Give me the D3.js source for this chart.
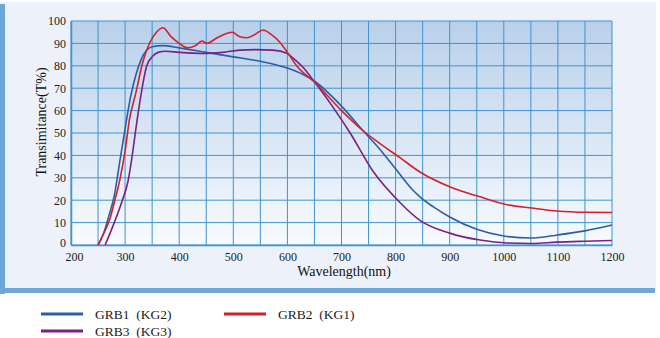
<!DOCTYPE html>
<html>
<head>
<meta charset="utf-8">
<script src="https://cdn.jsdelivr.net/npm/d3@7"></script>
<style>
  body { margin: 0; background: #ffffff; }
  svg { display: block; }
</style>
</head>
<body>
<svg></svg>
<script>
// Set up dimensions
const width = 660, height = 338;
const margin = { top: 21, right: 48, bottom: 93, left: 71 };

// Data
const xTicks = [200, 300, 400, 500, 600, 700, 800, 900, 1000, 1100, 1200];
const yTicks = [0, 10, 20, 30, 40, 50, 60, 70, 80, 90, 100];

const grb1 = [[250,0],[260,5],[270,13],[280,22],[290,37],[300,52],[310,66],[320,76],[330,83],[340,87],[350,88.5],[370,89],
  [400,88],[450,86],[500,84],[550,82],[600,79],[630,76],[651,73],[700,62],[740,51],[770,43],[800,34],[830,25],
  [845,21.5],[870,17],[900,12.5],[950,7],[1000,4],[1050,3.1],[1100,4.5],[1150,6.3],[1200,8.9]];

const grb2 = [[250,0],[260,5],[271,11],[280,19],[291,30],[300,42],[308,56],[320,68],[331,80],[346,90.5],[358,95],[370,97],
  [385,93],[400,90],[416,88],[430,89],[442,91],[451,90],[470,92.5],[498,95],[512,93],[525,92.5],[540,94],[555,96],
  [570,94],[586,90.5],[600,86],[617,80],[651,72.5],[700,60],[740,51],[770,45.5],[808,39],[845,32.6],[900,26],
  [956,21.5],[1006,18],[1052,16.5],[1098,15.2],[1154,14.6],[1200,14.5]];

const grb3 = [[263,0],[280,10],[295,20],[305,28],[312,38],[320,52],[328,65],[340,80],[350,84],[361,86],[375,86.5],
  [400,86],[444,85.5],[480,86],[512,87],[540,87.2],[573,87],[600,85.5],[610,83.5],[630,79],[651,72.5],[680,63],
  [716,50],[758,33],[808,19],[845,11],[900,5.3],[956,2.2],[1006,0.9],[1052,0.7],[1098,1.3],[1150,1.7],[1200,2]];

const series = [
  { name: "GRB1\u00a0\u00a0(KG2)", color: "#2c5ea6", values: grb1 },
  { name: "GRB2\u00a0\u00a0(KG1)", color: "#d61f2c", values: grb2 },
  { name: "GRB3\u00a0\u00a0(KG3)", color: "#7a2184", values: grb3 }
];

const svg = d3.select("svg")
    .attr("width", width)
    .attr("height", height);

// Panel background with blue edges
svg.append("rect")
    .attr("x", 0).attr("y", 2)
    .attr("width", 656).attr("height", 290)
    .attr("fill", "#edf2fa");
svg.append("rect")
    .attr("x", 0).attr("y", 4)
    .attr("width", 5).attr("height", 290)
    .attr("fill", "#6ea6d8");
svg.append("rect")
    .attr("x", 0).attr("y", 288)
    .attr("width", 655).attr("height", 5)
    .attr("fill", "#6ea6d8");

// Scales
const xScale = d3.scaleLinear().domain([200, 1200]).range([margin.left, width - margin.right]);
const yScale = d3.scaleLinear().domain([0, 100]).range([height - margin.bottom, margin.top]);

// Plot area gradient
const defs = svg.append("defs");
const grad = defs.append("linearGradient")
    .attr("id", "plotBg")
    .attr("x1", 0).attr("y1", 0).attr("x2", 0).attr("y2", 1);
grad.append("stop").attr("offset", "0%").attr("stop-color", "#b9d0ea");
grad.append("stop").attr("offset", "55%").attr("stop-color", "#dce8f6");
grad.append("stop").attr("offset", "100%").attr("stop-color", "#f8fbfe");

svg.append("rect")
    .attr("x", xScale(200)).attr("y", yScale(100))
    .attr("width", xScale(1200) - xScale(200))
    .attr("height", yScale(0) - yScale(100))
    .attr("fill", "url(#plotBg)");

// Grid lines
const gridColor = "#3f93cf";
svg.append("g")
    .selectAll("line")
    .data(d3.range(200, 1201, 50))
    .join("line")
    .attr("x1", d => xScale(d)).attr("x2", d => xScale(d))
    .attr("y1", yScale(0)).attr("y2", yScale(100))
    .attr("stroke", gridColor)
    .attr("stroke-width", 1);

svg.append("g")
    .selectAll("line")
    .data(yTicks)
    .join("line")
    .attr("x1", xScale(200)).attr("x2", xScale(1200))
    .attr("y1", d => yScale(d)).attr("y2", d => yScale(d))
    .attr("stroke", gridColor)
    .attr("stroke-width", 1);

// Axes (tick labels only)
const xAxis = svg.append("g")
    .attr("transform", `translate(0,${yScale(0)})`)
    .call(d3.axisBottom(xScale).tickValues(xTicks).tickFormat(d3.format("d")).tickSize(0).tickPadding(7));
const yAxis = svg.append("g")
    .attr("transform", `translate(${xScale(200)},0)`)
    .call(d3.axisLeft(yScale).tickValues(yTicks).tickSize(0).tickPadding(5));

// first x label sits a bit right of its grid line, like the reference
xAxis.selectAll(".tick text").filter(d => d === 200).attr("dx", 3);
yAxis.selectAll(".tick text").filter(d => d === 0).attr("dy", "0.1em");

[xAxis, yAxis].forEach(g => {
  g.select(".domain").attr("stroke", gridColor).attr("stroke-width", 1.5);
  g.selectAll("text")
    .attr("fill", "#222")
    .style("font-family", "'Liberation Serif', serif")
    .style("font-size", "12px");
});

// Axis labels
svg.append("text")
    .attr("x", 344)
    .attr("y", 276)
    .attr("text-anchor", "middle")
    .style("font-family", "'Liberation Serif', serif")
    .style("font-size", "14px")
    .attr("fill", "#111")
    .text("Wavelength(nm)");

svg.append("text")
    .attr("transform", "rotate(-90)")
    .attr("x", -122)
    .attr("y", 46)
    .attr("text-anchor", "middle")
    .style("font-family", "'Liberation Serif', serif")
    .style("font-size", "14px")
    .attr("fill", "#111")
    .text("Transimitance(T%)");

// Curves
const line = d3.line()
    .x(d => xScale(d[0]))
    .y(d => yScale(d[1]))
    .curve(d3.curveMonotoneX);

svg.append("g")
    .selectAll("path")
    .data([series[0], series[2], series[1]])
    .join("path")
    .attr("d", d => line(d.values))
    .attr("fill", "none")
    .attr("stroke", d => d.color)
    .attr("stroke-width", 1.6);

// Legend
const legendPos = [
  { x: 41, y: 314 },
  { x: 224, y: 314 },
  { x: 41, y: 331 }
];

const legend = svg.append("g")
    .selectAll("g")
    .data(series)
    .join("g")
    .attr("transform", (d, i) => `translate(${legendPos[i].x},${legendPos[i].y})`);

legend.append("line")
    .attr("x1", 0).attr("x2", 42)
    .attr("stroke", d => d.color)
    .attr("stroke-width", 3);

legend.append("text")
    .attr("x", 54)
    .attr("y", 4.5)
    .style("font-family", "'Liberation Serif', serif")
    .style("font-size", "13.5px")
    .attr("fill", "#222")
    .text(d => d.name);
</script>
</body>
</html>
